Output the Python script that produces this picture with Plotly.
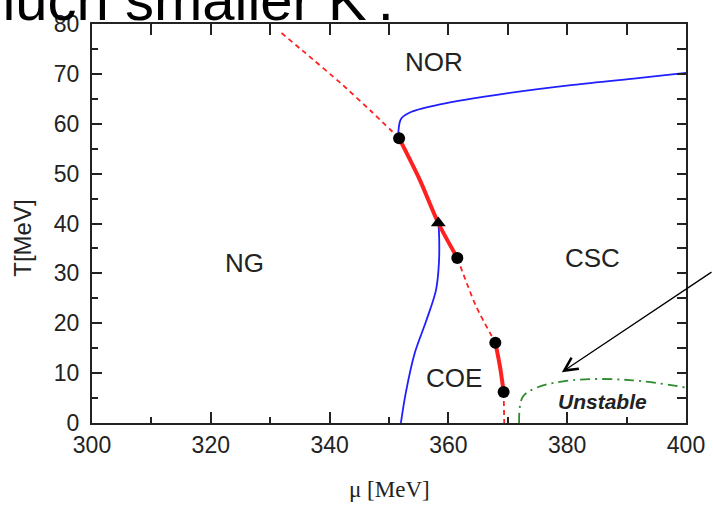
import plotly.graph_objects as go

# ---- data ----
red_dash_top_mu = [331.9, 336.0, 341.9, 347.0, 351.7]
red_dash_top_T = [78.2, 74.1, 68.1, 62.5, 57.1]

red_solid_upper_mu = [351.7, 355.2, 358.3, 361.5]
red_solid_upper_T = [57.1, 48.7, 40.1, 33.1]

red_dash_mid_mu = [361.5, 363.1, 364.7, 367.9]
red_dash_mid_T = [33.1, 28.0, 23.3, 16.1]

red_solid_lower_mu = [367.9, 368.7, 369.3]
red_solid_lower_T = [16.1, 11.2, 6.2]

red_dash_bottom_mu = [369.3, 369.4]
red_dash_bottom_T = [6.2, 0.0]

blue_upper_mu = [351.7, 351.6, 352.1, 353.8, 358.6, 369.8, 381.0, 392.3, 400.0]
blue_upper_T = [57.1, 58.7, 61.1, 62.4, 63.9, 66.1, 67.8, 69.2, 70.2]

blue_lower_mu = [358.3, 358.4, 358.4, 357.9, 356.3, 354.3, 352.8, 352.0]
blue_lower_T = [40.1, 38.7, 32.0, 26.6, 20.6, 13.9, 5.9, 0.0]

green_mu = [371.9, 372.5, 374.9, 381.0, 390.6, 400.0]
green_T = [0.0, 5.2, 7.1, 8.6, 8.6, 7.1]

dots_mu = [351.7, 361.5, 367.9, 369.3]
dots_T = [57.1, 33.1, 16.1, 6.2]
tri_mu = [358.3]
tri_T = [40.1]

region_labels = ["NOR", "NG", "CSC", "COE"]
region_mu = [357.5, 325.7, 384.3, 361.0]
region_T = [72.4, 32.1, 33.0, 9.1]

unstable_label = "Unstable"
unstable_pos = (386.0, 4.4)
arrow_tip = (379.1, 10.2)

x_ticks = [300, 320, 340, 360, 380, 400]
y_ticks = [0, 10, 20, 30, 40, 50, 60, 70, 80]

RED = "#ff2020"
BLUE = "#1f1fff"
GREEN = "#2e8b2e"
INK = "#222222"

fig = go.Figure()

def line(x, y, color, width, dash="solid", smooth=0.8):
    fig.add_trace(go.Scatter(x=x, y=y, mode="lines",
                             line=dict(color=color, width=width, dash=dash,
                                       shape="spline", smoothing=smooth),
                             showlegend=False, hoverinfo="skip"))

line(blue_upper_mu, blue_upper_T, BLUE, 1.8, smooth=0.9)
line(blue_lower_mu, blue_lower_T, BLUE, 1.8, smooth=0.9)
line(green_mu, green_T, GREEN, 1.8, dash="10px,5px,2px,5px", smooth=1.0)
line(red_dash_top_mu, red_dash_top_T, RED, 1.8, dash="5px,4px", smooth=0.5)
line(red_dash_mid_mu, red_dash_mid_T, RED, 1.8, dash="5px,4px")
line(red_dash_bottom_mu, red_dash_bottom_T, RED, 1.8, dash="5px,4px")
line(red_solid_upper_mu, red_solid_upper_T, RED, 4)
line(red_solid_lower_mu, red_solid_lower_T, RED, 4)

fig.add_trace(go.Scatter(x=dots_mu, y=dots_T, mode="markers",
                         marker=dict(color="black", size=12, symbol="circle"),
                         showlegend=False, hoverinfo="skip", cliponaxis=False))
fig.add_trace(go.Scatter(x=tri_mu, y=tri_T, mode="markers",
                         marker=dict(color="black", size=13, symbol="triangle-up"),
                         showlegend=False, hoverinfo="skip", cliponaxis=False))

# empty trace so the overlay (top/right tick) axes exist
fig.add_trace(go.Scatter(x=[], y=[], xaxis="x2", yaxis="y2", showlegend=False))

for lab, mx, ty in zip(region_labels, region_mu, region_T):
    fig.add_annotation(x=mx, y=ty, text=lab, showarrow=False,
                       xanchor="center", yanchor="middle",
                       font=dict(family="Liberation Sans, Arial", size=26, color=INK))

fig.add_annotation(x=unstable_pos[0], y=unstable_pos[1], text="<b><i>" + unstable_label + "</i></b>",
                   showarrow=False, xanchor="center", yanchor="middle",
                   font=dict(family="Liberation Sans, Arial", size=21, color=INK))

fig.add_annotation(x=arrow_tip[0], y=arrow_tip[1], text="", showarrow=True,
                   ax=165, ay=-101, arrowhead=5, arrowsize=2.0, arrowwidth=1.3,
                   arrowcolor="black", standoff=0)

# axis titles
fig.add_annotation(xref="paper", yref="paper", x=-0.117, y=0.463, text="T[MeV]",
                   textangle=-90, showarrow=False, xanchor="center", yanchor="middle",
                   font=dict(family="Liberation Sans, Arial", size=24, color=INK))
fig.add_annotation(xref="paper", yref="paper", x=0.5, y=-0.166, text="μ [MeV]",
                   showarrow=False, xanchor="center", yanchor="middle",
                   font=dict(family="Liberation Serif, Times New Roman", size=23, color=INK))

# clipped slide text at the very top
fig.add_annotation(xref="paper", yref="paper", x=0, y=1, xanchor="left", yanchor="bottom",
                   xshift=-127, yshift=-10, text="much smaller K'.", showarrow=False,
                   font=dict(family="Liberation Sans, Arial", size=58, color="black"))

tickfont = dict(family="Liberation Sans, Arial", size=23, color=INK)

fig.update_layout(
    width=713, height=505, autosize=False,
    margin=dict(l=92, r=27, t=24, b=82),
    paper_bgcolor="white", plot_bgcolor="white",
    xaxis=dict(range=[300, 400], tickvals=x_ticks, ticks="inside", ticklen=11,
               tickwidth=1.5, tickcolor=INK, showline=True, linecolor=INK, linewidth=2,
               mirror=True, showgrid=False, zeroline=False, tickfont=tickfont,
               ticklabelstandoff=0, automargin=False,
               minor=dict(dtick=10, ticks="inside", ticklen=6, tickwidth=1.5, tickcolor=INK,
                          showgrid=False)),
    yaxis=dict(range=[0, 80], tickvals=y_ticks, ticks="inside", ticklen=10,
               tickwidth=1.5, tickcolor=INK, showline=True, linecolor=INK, linewidth=2,
               mirror=True, showgrid=False, zeroline=False, tickfont=tickfont,
               ticklabelstandoff=6, automargin=False,
               minor=dict(dtick=5, ticks="inside", ticklen=6, tickwidth=1.5, tickcolor=INK,
                          showgrid=False)),
    xaxis2=dict(range=[300, 400], overlaying="x", side="top", dtick=10, tick0=300,
                ticks="inside", ticklen=11, tickwidth=1.5, tickcolor=INK, automargin=False,
                showticklabels=False, showgrid=False, zeroline=False, showline=False),
    yaxis2=dict(range=[0, 80], overlaying="y", side="right", dtick=5, tick0=0,
                ticks="inside", ticklen=9, tickwidth=1.5, tickcolor=INK, automargin=False,
                showticklabels=False, showgrid=False, zeroline=False, showline=False),
)

fig.write_html("out.html", config={"displayModeBar": False},
               post_script="document.body.style.margin='0px';")
